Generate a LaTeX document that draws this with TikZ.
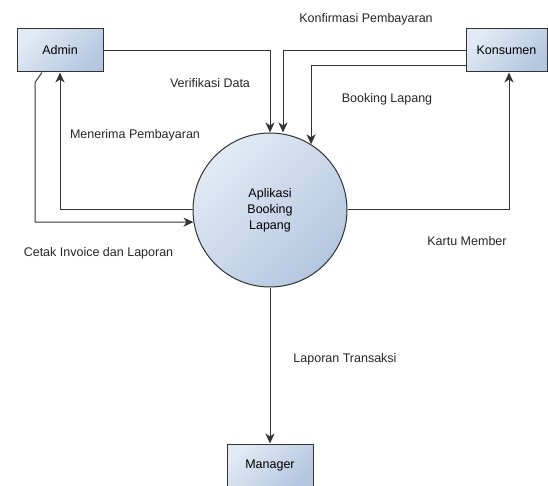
\documentclass[tikz,border=0pt]{standalone}
\usepackage{fontspec}
\setmainfont{Liberation Sans}
\usetikzlibrary{arrows.meta}
\definecolor{lightfill}{HTML}{E2EAF5}
\definecolor{darkfill}{HTML}{B4C7E0}
\definecolor{linecol}{HTML}{333333}
\tikzset{
  entity/.style={draw=linecol, line width=1pt, shading=axis, top color=lightfill, bottom color=darkfill, shading angle=45, minimum width=86pt, minimum height=43pt, inner sep=0pt, font=\fontsize{12.5}{15}\selectfont},
  process/.style={circle, draw=linecol, line width=1pt, shading=axis, top color=lightfill, bottom color=darkfill, shading angle=45, minimum size=154pt, inner sep=0pt, align=center, font=\fontsize{12.5}{16}\selectfont},
  flow/.style={draw=linecol, line width=1pt, -{Stealth[length=10pt,width=9pt,inset=3pt]}},
  lbl/.style={font=\fontsize{12.5}{15}\selectfont, text=black!85, inner sep=0pt}
}
\begin{document}
\begin{tikzpicture}[x=1pt,y=-1pt]
\useasboundingbox (0,0) rectangle (548,486);
\node[entity, minimum width=86pt] (admin) at (60,50.5) {Admin};
\node[entity, minimum width=81pt] (kons) at (506.5,50.5) {Konsumen};
\node[entity] (manager) at (270,465.5) {Manager};
\node[process] (app) at (270,210) {Aplikasi\\Booking\\Lapang};

\draw[flow] (admin.east) -| (app.north);
\draw[flow] (kons.west) -| ([xshift=13pt]app.north);
\draw[flow] ([yshift=-15pt]kons.west) -| (app.58);
\draw[flow] (app.east) -| ([xshift=2.5pt]kons.south);
\draw[flow] (app.west) -| (admin.south);
\draw[flow] ([xshift=-18pt]admin.south) -- ++(-7,10) |- (app.189);
\draw[flow] (app.south) -- (manager.north);

\node[lbl] (l1) at (210,83) {Verifikasi Data};
\node[lbl] (l2) at (135,135) {Menerima Pembayaran};
\node[lbl] (l3) at (366,19) {Konfirmasi Pembayaran};
\node[lbl] (l4) at (387,99) {Booking Lapang};
\node[lbl] (l5) at (98.5,253) {Cetak Invoice dan Laporan};
\node[lbl] (l6) at (467,241) {Kartu Member};
\node[lbl] (l7) at (345,359) {Laporan Transaksi};
\end{tikzpicture}
\end{document}
